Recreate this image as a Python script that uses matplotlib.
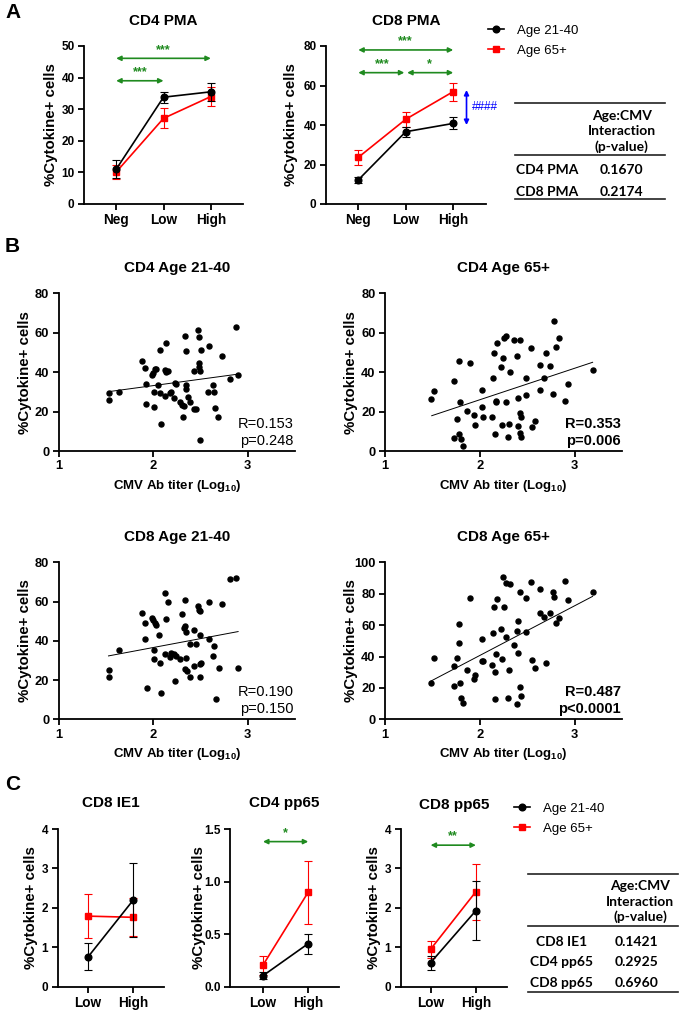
import numpy as np
import matplotlib
matplotlib.use('Agg')
import matplotlib.pyplot as plt
from matplotlib.lines import Line2D

plt.rcParams['font.family'] = ['Liberation Sans', 'DejaVu Sans']
plt.rcParams['mathtext.fontset'] = 'custom'
plt.rcParams['mathtext.bf'] = 'Liberation Sans:bold'
plt.rcParams['mathtext.rm'] = 'Liberation Sans'

# ---------------- DATA ----------------
pma_groups = ['Neg', 'Low', 'High']
cd4_pma_young = [11.0, 33.8, 35.5]
cd4_pma_young_err = [2.9, 1.7, 2.9]
cd4_pma_old = [10.1, 27.1, 34.0]
cd4_pma_old_err = [2.1, 3.2, 3.1]
cd8_pma_young = [12.2, 36.6, 40.8]
cd8_pma_young_err = [1.7, 2.5, 3.0]
cd8_pma_old = [23.6, 42.9, 56.9]
cd8_pma_old_err = [3.6, 3.8, 4.6]

table_a_rows = ['CD4 PMA', 'CD8 PMA']
table_a_vals = ['0.1670', '0.2174']

cd4_young_x = [1.527, 1.527, 1.633, 1.880, 1.908, 1.922, 1.926, 1.986, 1.996, 2.004, 2.011, 2.021,
               2.032, 2.049, 2.067, 2.074, 2.081, 2.120, 2.127, 2.134, 2.134, 2.152, 2.173, 2.191,
               2.216, 2.233, 2.240, 2.286, 2.304, 2.314, 2.322, 2.332, 2.346, 2.346, 2.350, 2.367,
               2.385, 2.428, 2.435, 2.456, 2.473, 2.481, 2.488, 2.488, 2.498, 2.505, 2.491, 2.576,
               2.594, 2.633, 2.640, 2.657, 2.682, 2.728, 2.816, 2.880, 2.898]
cd4_young_y = [29.3, 25.9, 30.1, 45.7, 42.3, 33.8, 23.7, 38.6, 39.4, 30.1, 22.5, 41.6,
               41.5, 33.3, 51.3, 29.3, 13.5, 27.9, 41.1, 39.9, 54.7, 40.6, 29.3, 30.1,
               26.7, 34.3, 34.0, 25.0, 23.4, 17.1, 23.0, 58.5, 50.8, 33.5, 31.3, 27.6,
               25.0, 40.6, 21.2, 21.2, 61.4, 44.8, 57.7, 42.5, 40.6, 51.3, 5.6, 29.8,
               53.3, 33.5, 30.1, 21.7, 17.1, 48.2, 36.5, 63.1, 38.4]
cd4_young_fit_x = [1.527, 2.898]
cd4_young_fit_y = [30.1, 39.0]

cd4_old_x = [1.486, 1.518, 1.729, 1.729, 1.764, 1.782, 1.785, 1.792, 1.803, 1.827, 1.863, 1.898,
             1.944, 1.951, 2.021, 2.021, 2.039, 2.127, 2.134, 2.155, 2.162, 2.173, 2.173, 2.180,
             2.225, 2.239, 2.243, 2.250, 2.275, 2.278, 2.296, 2.313, 2.320, 2.356, 2.391, 2.398,
             2.408, 2.419, 2.426, 2.426, 2.433, 2.437, 2.486, 2.489, 2.542, 2.553, 2.585, 2.637,
             2.637, 2.680, 2.701, 2.743, 2.768, 2.778, 2.806, 2.831, 2.930, 2.901, 3.190]
cd4_old_y = [26.4, 30.6, 35.7, 6.8, 16.1, 8.6, 45.9, 24.7, 6.1, 2.5, 20.5, 44.8,
             18.3, 13.2, 31.0, 22.5, 17.1, 17.1, 37.2, 49.6, 8.6, 24.7, 25.4, 54.7,
             42.8, 13.2, 47.4, 57.5, 58.4, 25.0, 6.9, 13.5, 40.3, 56.3, 48.4, 12.9,
             26.7, 56.3, 9.0, 19.5, 17.4, 7.3, 36.9, 28.4, 52.1, 12.4, 15.4, 31.0,
             43.5, 37.2, 49.6, 43.3, 28.9, 65.7, 52.6, 57.5, 34.2, 25.4, 40.9]
cd4_old_fit_x = [1.493, 3.19]
cd4_old_fit_y = [17.9, 45.0]

cd8_young_x = [1.527, 1.527, 1.633, 1.880, 1.908, 1.915, 1.933, 1.986, 1.996, 2.011, 2.011, 2.021,
               2.028, 2.057, 2.067, 2.081, 2.120, 2.127, 2.152, 2.138, 2.173, 2.191, 2.216, 2.233,
               2.244, 2.286, 2.304, 2.322, 2.332, 2.339, 2.346, 2.350, 2.339, 2.357, 2.385, 2.385,
               2.428, 2.435, 2.456, 2.473, 2.481, 2.491, 2.491, 2.498, 2.498, 2.509, 2.587, 2.587,
               2.633, 2.640, 2.664, 2.693, 2.728, 2.816, 2.880, 2.898]
cd8_young_y = [25.1, 21.7, 35.3, 54.0, 49.3, 40.8, 16.1, 51.5, 50.6, 35.3, 30.6, 48.9,
               47.9, 43.0, 28.9, 13.6, 64.2, 33.1, 60.0, 51.1, 31.9, 33.6, 33.1, 19.7,
               32.3, 30.7, 53.5, 46.7, 60.8, 47.6, 44.3, 31.4, 25.6, 24.6, 38.4, 21.7,
               45.5, 27.3, 38.4, 57.7, 55.7, 55.2, 43.0, 28.2, 21.7, 28.9, 59.6, 40.9,
               32.3, 37.5, 10.2, 26.0, 58.6, 71.5, 72.2, 26.0]
cd8_young_fit_x = [1.527, 2.898]
cd8_young_fit_y = [32.3, 44.7]

cd8_old_x = [1.486, 1.518, 1.729, 1.729, 1.764, 1.782, 1.785, 1.792, 1.803, 1.827, 1.863, 1.898,
             1.944, 1.951, 2.021, 2.021, 2.039, 2.127, 2.134, 2.155, 2.162, 2.173, 2.162, 2.180,
             2.225, 2.239, 2.243, 2.250, 2.275, 2.278, 2.296, 2.313, 2.320, 2.356, 2.391, 2.398,
             2.408, 2.419, 2.426, 2.433, 2.391, 2.486, 2.489, 2.542, 2.553, 2.585, 2.637, 2.637,
             2.680, 2.701, 2.743, 2.768, 2.778, 2.806, 2.831, 2.901, 2.930, 3.190]
cd8_old_y = [22.9, 38.9, 34.2, 21.2, 39.3, 48.4, 60.7, 23.4, 13.8, 10.2, 31.4, 77.1,
             25.5, 28.2, 51.4, 37.2, 37.2, 34.6, 55.2, 71.3, 29.9, 41.4, 13.0, 76.6,
             57.5, 38.2, 90.4, 71.8, 87.0, 52.2, 13.8, 31.6, 86.0, 47.3, 56.1, 42.0,
             62.8, 81.3, 20.8, 15.1, 9.6, 55.8, 77.5, 87.3, 37.8, 32.5, 82.8, 67.5,
             65.4, 36.1, 67.5, 81.1, 77.7, 61.6, 64.8, 88.3, 76.0, 80.9]
cd8_old_fit_x = [1.486, 3.19]
cd8_old_fit_y = [24.4, 78.3]

c_groups = ['Low', 'High']
ie1_cd8_young = [0.76, 2.20]
ie1_cd8_young_err = [0.34, 0.93]
ie1_cd8_old = [1.79, 1.76]
ie1_cd8_old_err = [0.55, 0.48]
pp65_cd4_young = [0.105, 0.41]
pp65_cd4_young_err = [0.035, 0.095]
pp65_cd4_old = [0.206, 0.90]
pp65_cd4_old_err = [0.09, 0.30]
pp65_cd8_young = [0.61, 1.93]
pp65_cd8_young_err = [0.18, 0.75]
pp65_cd8_old = [0.95, 2.41]
pp65_cd8_old_err = [0.21, 0.71]

table_c_rows = ['CD8 IE1', 'CD4 pp65', 'CD8 pp65']
table_c_vals = ['0.1421', '0.2925', '0.6960']

# ---------------- FIGURE ----------------
W, H = 680, 1011
fig = plt.figure(figsize=(W / 100, H / 100), dpi=100)
GREEN = '#1f8a1f'
RED = '#ff0000'
BLUE = '#0000ff'
YL = '%Cytokine+ cells'


def add_ax(l, r, t, b):
    return fig.add_axes([l / W, 1 - b / H, (r - l) / W, (b - t) / H])


def style(ax, ytick_fs=8.5, xtick_fs=9.8):
    for s in ['top', 'right']:
        ax.spines[s].set_visible(False)
    for s in ['left', 'bottom']:
        ax.spines[s].set_linewidth(1.3)
    ax.tick_params(direction='out', length=4.3, width=1.3, pad=2.5)
    ax.tick_params(axis='y', labelsize=ytick_fs)
    ax.tick_params(axis='x', labelsize=xtick_fs)
    for lab in ax.get_xticklabels() + ax.get_yticklabels():
        lab.set_fontweight('bold')


def ylabel(ax, off_px, fs=10.8):
    bb = ax.get_position()
    ax.set_ylabel(YL, fontsize=fs, fontweight='bold', va='center')
    ax.yaxis.set_label_coords(-off_px / (bb.width * W), 0.5)


def title(ax, text, off_px=25, fs=11):
    bb = ax.get_position()
    ax.text(0.5, 1 + off_px / (bb.height * H), text, transform=ax.transAxes,
            ha='center', va='center', fontsize=fs, fontweight='bold')


def group_plot(ax, groups, young, young_err, old, old_err):
    x = np.arange(len(groups))
    ax.errorbar(x, old, yerr=old_err, color=RED, marker='s', ms=4.8, lw=1.2,
                elinewidth=0.8, capsize=2.6, capthick=0.8, clip_on=False, zorder=3)
    ax.errorbar(x, young, yerr=young_err, color='black', marker='o', ms=4.8, lw=1.2,
                elinewidth=0.8, capsize=2.6, capthick=0.8, clip_on=False, zorder=4)
    ax.set_xticks(x)
    ax.set_xticklabels(groups)


def darrow(ax, x0, x1, y, color=GREEN):
    ax.annotate('', xy=(x1, y), xytext=(x0, y),
                arrowprops=dict(arrowstyle='<|-|>', color=color, lw=1.2,
                                mutation_scale=7, shrinkA=0, shrinkB=0))


def stars(ax, x, y, s):
    ax.text(x, y, s, color=GREEN, ha='center', va='center', fontsize=9, fontweight='bold')


# ---- Panel A ----
fig.text(5 / W, 1 - 12 / H, 'A', fontsize=15, fontweight='bold', va='center', ha='left')

a1 = add_ax(84, 243, 46, 204)
group_plot(a1, pma_groups, cd4_pma_young, cd4_pma_young_err, cd4_pma_old, cd4_pma_old_err)
a1.set_xlim(-0.68, 2.68)
a1.set_ylim(0, 50)
a1.set_yticks([0, 10, 20, 30, 40, 50])
style(a1)
ylabel(a1, 33)
title(a1, 'CD4 PMA')
darrow(a1, 0, 2, 46.1)
stars(a1, 1, 48.7, '***')
darrow(a1, 0, 1, 39.0)
stars(a1, 0.5, 41.7, '***')

a2 = add_ax(326, 485.5, 46, 204)
group_plot(a2, pma_groups, cd8_pma_young, cd8_pma_young_err, cd8_pma_old, cd8_pma_old_err)
a2.set_xlim(-0.68, 2.68)
a2.set_ylim(0, 80)
a2.set_yticks([0, 20, 40, 60, 80])
style(a2)
ylabel(a2, 35)
title(a2, 'CD8 PMA')
darrow(a2, 0, 2, 78.0)
stars(a2, 1, 82.2, '***')
darrow(a2, 0, 0.97, 66.5)
stars(a2, 0.5, 70.8, '***')
darrow(a2, 1.03, 2, 66.5)
stars(a2, 1.5, 70.8, '*')
a2.annotate('', xy=(2.28, 57.7), xytext=(2.28, 40.0),
            arrowprops=dict(arrowstyle='<|-|>', color=BLUE, lw=1.2,
                            mutation_scale=7, shrinkA=0, shrinkB=0))
a2.text(2.4, 48.9, '####', color=BLUE, ha='left', va='center', fontsize=8.5)

leg_handles = [Line2D([], [], color='black', marker='o', ms=4.8, lw=1.2),
               Line2D([], [], color=RED, marker='s', ms=4.8, lw=1.2)]
fig.legend(leg_handles, ['Age 21-40', 'Age 65+'], loc='center left',
           bbox_to_anchor=(488 / W, 1 - 40.5 / H), frameon=False, fontsize=9.5,
           handlelength=1.2, handletextpad=1.0, labelspacing=0.6, borderpad=0, borderaxespad=0)


def hline(x0, x1, y):
    fig.add_artist(Line2D([x0 / W, x1 / W], [1 - y / H, 1 - y / H], transform=fig.transFigure,
                          color='#222222', lw=1.2))


TF = ['Lato', 'DejaVu Sans']


def ttext(x, y, s):
    fig.text(x / W, 1 - y / H, s, ha='center', va='center', fontsize=10, fontweight='bold',
             family=TF)


hline(515, 665, 102.7)
ttext(621.7, 115.5, 'Age:CMV')
ttext(621.7, 131, 'Interaction')
ttext(621.7, 146.7, '(p-value)')
hline(515, 665, 155.3)
for i, (r, v) in enumerate(zip(table_a_rows, table_a_vals)):
    yy = 170 + i * 21.5
    ttext(547, yy, r)
    ttext(621.7, yy, v)
hline(515, 665, 199)

# ---- Panel B ----
fig.text(5 / W, 1 - 246 / H, 'B', fontsize=15, fontweight='bold', va='center', ha='left')


def scatter_panel(ax, x, y, fx, fy, ttl, rtxt, ptxt, bold, ymax):
    ax.plot(x, y, 'o', color='black', ms=3.6, clip_on=False, zorder=3)
    ax.plot(fx, fy, color='black', lw=0.7)
    ax.set_xlim(1, 3.5)
    ax.set_ylim(0, ymax)
    ax.set_xticks([1, 2, 3])
    ax.set_yticks(np.arange(0, ymax + 1, 20))
    style(ax, ytick_fs=9.3, xtick_fs=9.3)
    ylabel(ax, 34)
    title(ax, ttl, 25, 11)
    bb = ax.get_position()
    ax.set_xlabel(r'CMV Ab titer (Log$_{\mathbf{10}}$)', fontsize=9.5, fontweight='bold', va='center')
    ax.xaxis.set_label_coords(0.5, -35 / (bb.height * H))
    hgt = bb.height * H
    ax.text(0.995, 27 / hgt, rtxt, transform=ax.transAxes, ha='right', va='center',
            fontsize=10.5, fontweight='bold' if bold else 'normal')
    ax.text(0.995, 10 / hgt, ptxt, transform=ax.transAxes, ha='right', va='center',
            fontsize=10.5, fontweight='bold' if bold else 'normal')


b1 = add_ax(58.7, 295, 293.3, 451)
scatter_panel(b1, cd4_young_x, cd4_young_y, cd4_young_fit_x, cd4_young_fit_y,
              'CD4 Age 21-40', 'R=0.153', 'p=0.248', False, 80)
b2 = add_ax(385, 622, 293.3, 451)
scatter_panel(b2, cd4_old_x, cd4_old_y, cd4_old_fit_x, cd4_old_fit_y,
              'CD4 Age 65+', 'R=0.353', 'p=0.006', True, 80)
b3 = add_ax(58.7, 295, 562.3, 719.3)
scatter_panel(b3, cd8_young_x, cd8_young_y, cd8_young_fit_x, cd8_young_fit_y,
              'CD8 Age 21-40', 'R=0.190', 'p=0.150', False, 80)
b4 = add_ax(385, 622, 562.3, 719.3)
scatter_panel(b4, cd8_old_x, cd8_old_y, cd8_old_fit_x, cd8_old_fit_y,
              'CD8 Age 65+', 'R=0.487', 'p<0.0001', True, 100)

# ---- Panel C ----
fig.text(5 / W, 1 - 785 / H, 'C', fontsize=15, fontweight='bold', va='center', ha='left')

c1 = add_ax(57.5, 164, 829, 986.7)
group_plot(c1, c_groups, ie1_cd8_young, ie1_cd8_young_err, ie1_cd8_old, ie1_cd8_old_err)
c1.set_xlim(-0.68, 1.68)
c1.set_ylim(0, 4)
c1.set_yticks([0, 1, 2, 3, 4])
style(c1)
ylabel(c1, 27)
title(c1, 'CD8 IE1', 26)

c2 = add_ax(230, 339, 829, 986.7)
group_plot(c2, c_groups, pp65_cd4_young, pp65_cd4_young_err, pp65_cd4_old, pp65_cd4_old_err)
c2.set_xlim(-0.73, 1.68)
c2.set_ylim(0, 1.5)
c2.set_yticks([0, 0.5, 1.0, 1.5])
c2.set_yticklabels(['0.0', '0.5', '1.0', '1.5'])
style(c2)
ylabel(c2, 31)
title(c2, 'CD4 pp65', 26)
darrow(c2, 0, 1, 1.38)
stars(c2, 0.5, 1.46, '*')

c3 = add_ax(400.7, 506.7, 829, 986.7)
group_plot(c3, c_groups, pp65_cd8_young, pp65_cd8_young_err, pp65_cd8_old, pp65_cd8_old_err)
c3.set_xlim(-0.66, 1.68)
c3.set_ylim(0, 4)
c3.set_yticks([0, 1, 2, 3, 4])
style(c3)
ylabel(c3, 27)
title(c3, 'CD8 pp65', 24)
darrow(c3, 0, 1, 3.59)
stars(c3, 0.5, 3.82, '**')

fig.legend(leg_handles, ['Age 21-40', 'Age 65+'], loc='center left',
           bbox_to_anchor=(514 / W, 1 - 818.5 / H), frameon=False, fontsize=9.5,
           handlelength=1.2, handletextpad=1.0, labelspacing=0.6, borderpad=0, borderaxespad=0)

hline(528, 678, 874.3)
ttext(640, 885.5, 'Age:CMV')
ttext(640, 901.5, 'Interaction')
ttext(640, 916.7, '(p-value)')
hline(528, 678, 926)
for i, (r, v) in enumerate(zip(table_c_rows, table_c_vals)):
    yy = 941.7 + i * 20.5
    ttext(561.7, yy, r)
    ttext(636.7, yy, v)
hline(528, 678, 992.3)

fig.savefig('out.png', dpi=100)
